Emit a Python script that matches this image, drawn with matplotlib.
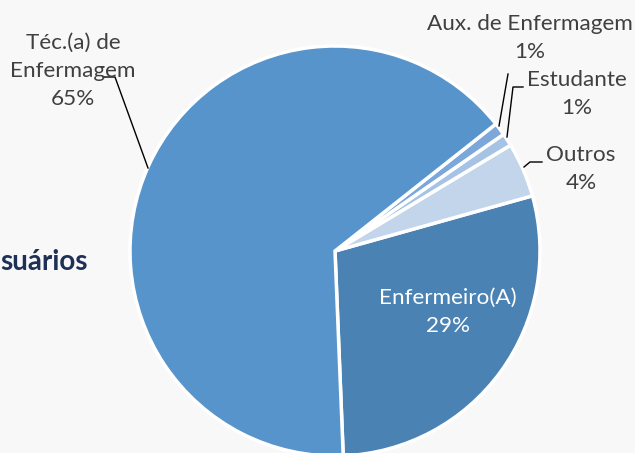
import matplotlib.pyplot as plt

# dados (percentuais) — ordem anti-horária a partir de baixo
categorias = ['Enfermeiro(A)', 'Outros', 'Estudante', 'Aux. de Enfermagem', 'Téc.(a) de\nEnfermagem']
valores = [28.7, 4.3, 1.0, 1.0, 65.0]
rotulos_pct = ['29%', '4%', '1%', '1%', '65%']
cores = ['#4A82B4', '#C3D5EA', '#A6C3E6', '#7BA7DA', '#5694CB']

W, H = 635, 453
FONTE = ['Lato', 'DejaVu Sans']

fig = plt.figure(figsize=(W / 100, H / 100), dpi=100, facecolor='#F8F8F8')
ax = fig.add_axes([0, 0, 1, 1])

def py(y):
    # coordenada de pixel (a partir do topo) -> dados
    return H - y

cx, cy, r = 335, py(251), 205

ax.pie(valores, colors=cores, startangle=-87.7, counterclock=True,
       center=(cx, cy), radius=r, frame=True,
       wedgeprops=dict(edgecolor='white', linewidth=2.5))
ax.set_xlim(0, W)
ax.set_ylim(0, H)
ax.axis('off')

# título (parte visível)
ax.text(0, py(262), 'suários', ha='left', va='center', fontsize=20,
        fontweight='bold', color='#1F3057', family=FONTE)

cor_txt = '#404040'
fs = 16.2
ls = 1.48

# Enfermeiro(A) – dentro da fatia
ax.text(448, py(312), categorias[0] + '\n' + rotulos_pct[0], ha='center', va='center',
        fontsize=fs, color='white', family=FONTE, linespacing=ls)

# Outros
ax.text(581, py(169), categorias[1] + '\n' + rotulos_pct[1], ha='center', va='center',
        fontsize=fs, color=cor_txt, family=FONTE, linespacing=ls)
ax.plot([524, 530, 542], [py(167), py(162), py(162)], color='black', lw=1.0)

# Estudante
ax.text(577, py(94), categorias[2] + '\n' + rotulos_pct[2], ha='center', va='center',
        fontsize=fs, color=cor_txt, family=FONTE, linespacing=ls)
ax.plot([507, 513, 523], [py(137), py(87), py(87)], color='black', lw=1.0)

# Aux. de Enfermagem
ax.text(530, py(38), categorias[3] + '\n' + rotulos_pct[3], ha='center', va='center',
        fontsize=fs, color=cor_txt, family=FONTE, linespacing=ls)
ax.plot([499, 508], [py(126), py(74)], color='black', lw=1.0)

# Téc.(a) de Enfermagem
ax.text(73, py(71), categorias[4] + '\n' + rotulos_pct[4], ha='center', va='center',
        fontsize=fs, color=cor_txt, family=FONTE, linespacing=ls)
ax.plot([148, 115, 103], [py(168), py(77), py(77)], color='black', lw=1.0)

fig.savefig('out.png', dpi=100, facecolor=fig.get_facecolor())
